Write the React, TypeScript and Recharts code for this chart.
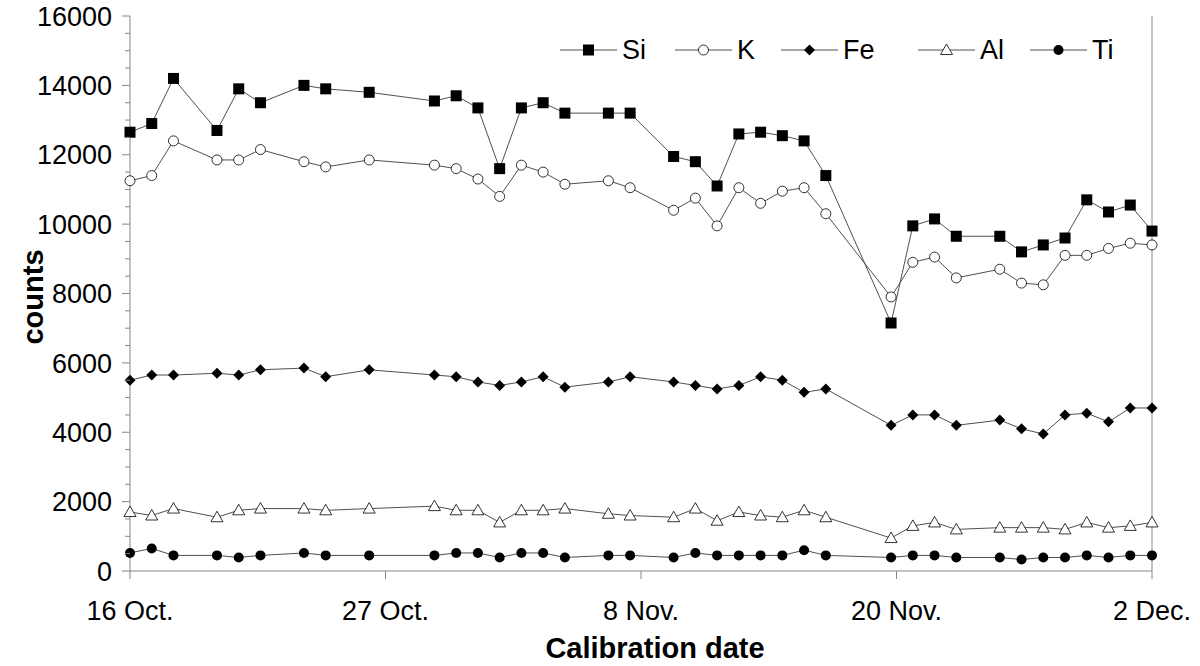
import { LineChart, Line, XAxis, YAxis, Legend, ReferenceLine } from 'recharts';

// calibration day, counted from 16 Oct.
const days = [0, 1, 2, 4, 5, 6, 8, 9, 11, 14, 15, 16, 17, 18, 19, 20, 22, 23, 25, 26, 27, 28, 29, 30, 31, 32, 35, 36, 37, 38, 40, 41, 42, 43, 44, 45, 46, 47];

const si = [12650, 12900, 14200, 12700, 13900, 13500, 14000, 13900, 13800, 13550, 13700, 13350, 11600, 13350, 13500, 13200, 13200, 13200, 11950, 11800, 11100, 12600, 12650, 12550, 12400, 11400, 7150, 9950, 10150, 9650, 9650, 9200, 9400, 9600, 10700, 10350, 10550, 9800];
const k = [11250, 11400, 12400, 11850, 11850, 12150, 11800, 11650, 11850, 11700, 11600, 11300, 10800, 11700, 11500, 11150, 11250, 11050, 10400, 10750, 9950, 11050, 10600, 10950, 11050, 10300, 7900, 8900, 9050, 8450, 8700, 8300, 8250, 9100, 9100, 9300, 9450, 9400];
const fe = [5500, 5650, 5650, 5700, 5650, 5800, 5850, 5600, 5800, 5650, 5600, 5450, 5350, 5450, 5600, 5300, 5450, 5600, 5450, 5350, 5250, 5350, 5600, 5500, 5150, 5250, 4200, 4500, 4500, 4200, 4350, 4100, 3950, 4500, 4550, 4300, 4700, 4700];
const al = [1700, 1600, 1800, 1550, 1750, 1800, 1800, 1750, 1800, 1870, 1750, 1750, 1400, 1750, 1750, 1800, 1650, 1600, 1550, 1800, 1450, 1700, 1600, 1550, 1750, 1550, 950, 1300, 1400, 1200, 1250, 1250, 1250, 1200, 1400, 1250, 1300, 1400];
const ti = [520, 650, 450, 450, 390, 450, 520, 450, 450, 450, 520, 520, 390, 520, 520, 390, 450, 450, 390, 520, 450, 450, 450, 450, 600, 450, 390, 450, 450, 390, 390, 330, 390, 390, 450, 390, 450, 450];

const dateTicks = [0, 11.75, 23.5, 35.25, 47];
const dateLabels = ['16 Oct.', '27 Oct.', '8 Nov.', '20 Nov.', '2 Dec.'];
const countTicks = Array.from({ length: 33 }, (_, i) => i * 500);

const data = days.map((d, i) => ({ day: d, Si: si[i], K: k[i], Fe: fe[i], Al: al[i], Ti: ti[i] }));

const FONT = '"Liberation Sans", Arial, sans-serif';
const AXIS = '#868686';
const LINE = '#505050';

type Shape = 'square' | 'circleOpen' | 'diamond' | 'triangle' | 'circle';

function marker(shape: Shape, cx: number, cy: number, key?: any) {
  switch (shape) {
    case 'square':
      return <rect key={key} x={cx - 5.5} y={cy - 5.5} width={11} height={11} fill="#000" />;
    case 'circleOpen':
      return <circle key={key} cx={cx} cy={cy} r={5} fill="#fff" stroke="#000" strokeWidth={0.8} />;
    case 'diamond':
      return <polygon key={key} points={`${cx},${cy - 5.5} ${cx + 5.5},${cy} ${cx},${cy + 5.5} ${cx - 5.5},${cy}`} fill="#000" />;
    case 'triangle':
      return <polygon key={key} points={`${cx},${cy - 6} ${cx + 6},${cy + 4.5} ${cx - 6},${cy + 4.5}`} fill="#fff" stroke="#000" strokeWidth={0.8} />;
    default:
      return <circle key={key} cx={cx} cy={cy} r={5} fill="#000" />;
  }
}

const series: { key: string; shape: Shape }[] = [
  { key: 'Si', shape: 'square' },
  { key: 'K', shape: 'circleOpen' },
  { key: 'Fe', shape: 'diamond' },
  { key: 'Al', shape: 'triangle' },
  { key: 'Ti', shape: 'circle' },
];

// left edge of each legend entry (legend box is placed at x = 0)
const legendX = [560, 675, 781, 918, 1030];

const CountTick = (props: any) => {
  const { x, y, payload } = props;
  const major = payload.value % 2000 === 0;
  return (
    <g>
      <line x1={x - (major ? 8 : 5)} x2={x} y1={y} y2={y} stroke={AXIS} />
      {major && (
        <text x={x - 18} y={y} dy="0.36em" textAnchor="end" fontSize={27} fontFamily={FONT} fill="#000">
          {payload.value}
        </text>
      )}
    </g>
  );
};

const DateTick = (props: any) => {
  const { x, y, payload } = props;
  const idx = dateTicks.indexOf(payload.value);
  return (
    <g>
      <line x1={x} x2={x} y1={y} y2={y + 8} stroke={AXIS} />
      <text x={x} y={y + 49} textAnchor="middle" fontSize={27} fontFamily={FONT} fill="#000">
        {dateLabels[idx]}
      </text>
    </g>
  );
};

const LegendBox = () => (
  <div style={{ position: 'relative', height: 30, fontFamily: FONT, fontSize: 27, color: '#000' }}>
    {series.map((s, i) => (
      <div key={s.key} style={{ position: 'absolute', left: legendX[i], top: 0, display: 'flex', alignItems: 'center', height: 30 }}>
        <svg width={57} height={20}>
          <line x1={0} x2={57} y1={10} y2={10} stroke={LINE} />
          {marker(s.shape, 28.5, 10)}
        </svg>
        <span style={{ marginLeft: 5 }}>{s.key}</span>
      </div>
    ))}
  </div>
);

export default function App() {
  return (
    <div style={{ position: 'absolute', left: 0, top: 0, width: 1200, height: 666, background: '#fff' }}>
      <LineChart width={1200} height={666} data={data} margin={{ top: 16, right: 48, bottom: 0, left: 0 }}>
        <XAxis
          dataKey="day"
          type="number"
          domain={[0, 47]}
          ticks={dateTicks}
          tick={<DateTick />}
          tickSize={0}
          tickMargin={0}
          tickLine={false}
          axisLine={{ stroke: AXIS }}
          height={95}
          label={() => (
            <text x={655} y={658} textAnchor="middle" fontSize={29} fontWeight="bold" fontFamily={FONT} fill="#000">
              Calibration date
            </text>
          )}
        />
        <YAxis
          yAxisId="l"
          type="number"
          domain={[0, 16000]}
          ticks={countTicks}
          interval={0}
          tick={<CountTick />}
          tickSize={0}
          tickMargin={0}
          tickLine={false}
          axisLine={{ stroke: AXIS }}
          width={130}
          label={() => (
            <text x={43} y={297} transform="rotate(-90 43 297)" textAnchor="middle" fontSize={29} fontWeight="bold" fontFamily={FONT} fill="#000">
              counts
            </text>
          )}
        />
        <ReferenceLine yAxisId="l" x={47} stroke={AXIS} />
        <Legend
          verticalAlign="middle"
          align="center"
          content={() => <LegendBox />}
          wrapperStyle={{ position: 'absolute', top: 35, left: 0, width: 1200, height: 30 }}
        />
        {series.map((s) => (
          <Line
            key={s.key}
            yAxisId="l"
            dataKey={s.key}
            stroke={LINE}
            strokeWidth={1}
            isAnimationActive={false}
            dot={(p: any) => marker(s.shape, p.cx, p.cy, `${s.key}-${p.index}`)}
            activeDot={false}
          />
        ))}
      </LineChart>
    </div>
  );
}
